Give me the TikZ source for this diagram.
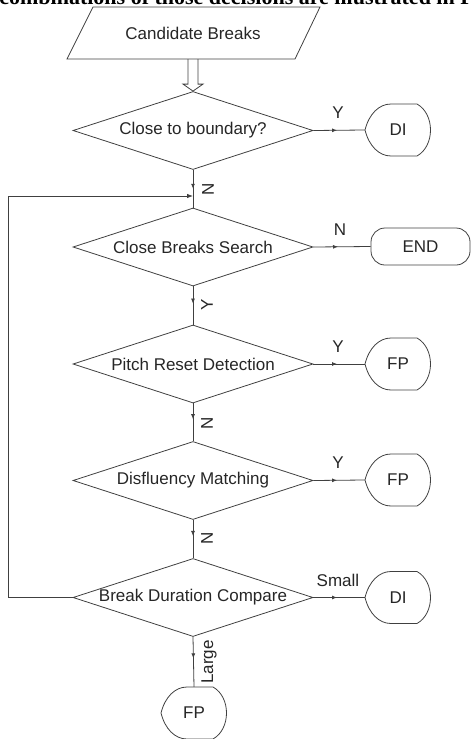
\documentclass[tikz,border=0pt]{standalone}
\usepackage{fontspec}
\setmainfont{Liberation Sans}
\newfontfamily\paperserif{Liberation Serif}
\usetikzlibrary{shapes.geometric,arrows.meta,decorations.markings}
\newcommand\dispoutline[1]{%
  \draw[lw] ([shift={(-33,0)}]#1.center)
    .. controls ([shift={(-29,-16)}]#1.center) and ([shift={(-19,-26)}]#1.center) .. ([shift={(-7,-26)}]#1.center)
    -- ([shift={(19,-26)}]#1.center)
    .. controls ([shift={(37,-16)}]#1.center) and ([shift={(37,16)}]#1.center) .. ([shift={(19,26)}]#1.center)
    -- ([shift={(-7,26)}]#1.center)
    .. controls ([shift={(-19,26)}]#1.center) and ([shift={(-29,16)}]#1.center) .. cycle;}
\begin{document}
\begin{tikzpicture}[x=1pt,y=-1pt,
  lw/.style={draw=black!75, line width=0.8pt},
  txt/.style={font=\fontsize{17}{20}\selectfont, text=black!85},
  dec/.style={lw, txt, diamond, aspect=3.08, minimum width=240, minimum height=78, inner sep=0pt},
  term/.style={txt, minimum width=66, minimum height=52, inner sep=0pt},
  endbox/.style={lw, txt, rounded corners=14pt, minimum width=99, minimum height=37, inner sep=0pt},
  lab/.style={txt, inner sep=0pt},
  vlab/.style={lab, rotate=90},
  midarr/.style={lw, postaction={decorate}, decoration={markings, mark=at position #1 with {\arrow{Latex[length=5pt,width=4pt]}}}},
  midarr/.default=0.46]
\useasboundingbox (0,0) rectangle (471,739);
% truncated line of the surrounding text
\begin{scope}
\clip (0,0) rectangle (471,5);
\node[anchor=base east, inner sep=0pt, font=\paperserif\bfseries\fontsize{22}{24}\selectfont] (paper) at (474,4) {combinations of those decisions are illustrated in F};
\end{scope}
% input
\node[txt, minimum width=200, minimum height=52, inner sep=0pt] (cb) at (193,33) {Candidate Breaks};
\draw[lw] ([shift={(-100,-26)}]cb.center) -- ([shift={(127,-26)}]cb.center) -- ([shift={(102,26)}]cb.center) -- ([shift={(-126,26)}]cb.center) -- cycle;
% decisions
\node[dec] (d1) at (193,130.5) {Close to boundary?};
\node[dec] (d2) at (193,247) {Close Breaks Search};
\node[dec] (d3) at (193,364) {Pitch Reset Detection};
\node[dec] (d4) at (193,480.5) {Disfluency Matching};
\node[dec] (d5) at (193,597.5) {Break Duration Compare};
% terminals
\node[term] (di1) at (398,130) {DI};
\node[endbox] (end) at (420.5,246.5) {END};
\node[term] (fp1) at (398,364) {FP};
\node[term] (fp2) at (398,480) {FP};
\node[term] (di2) at (398,597.5) {DI};
\node[term] (fp3) at (194,713) {FP};
\dispoutline{di1}
\dispoutline{fp1}
\dispoutline{fp2}
\dispoutline{di2}
\dispoutline{fp3}
% double arrow
\draw[lw] ([xshift=-5pt]cb.south) -- ([shift={(-5,-7)}]d1.north) -- ([shift={(-10,-7)}]d1.north) -- (d1.north)
  -- ([shift={(10,-7)}]d1.north) -- ([shift={(5,-7)}]d1.north) -- ([xshift=5pt]cb.south);
% horizontal connectors
\draw[midarr] (d1.east) -- (di1.west);
\draw[midarr=0.43] (d2.east) -- (end.west);
\draw[midarr] (d3.east) -- (fp1.west);
\draw[midarr] (d4.east) -- (fp2.west);
\draw[midarr] (d5.east) -- (di2.west);
\node[lab] (ly1) at (338,113) {Y};
\node[lab] (ln2) at (340,230) {N};
\node[lab] (ly3) at (338,347) {Y};
\node[lab] (ly4) at (338,463) {Y};
\node[lab] (lsm) at (338,580) {Small};
% vertical connectors
\draw[midarr=0.5] (d1.south) -- (d2.north);
\draw[midarr=0.45] (d2.south) -- (d3.north);
\draw[midarr=0.42] (d3.south) -- (d4.north);
\draw[midarr=0.42] (d4.south) -- (d5.north);
\draw[midarr=0.43] (d5.south) -- (fp3.north);
\node[vlab] (ln1) at (208,189) {N};
\node[vlab] (ly2) at (207,305) {Y};
\node[vlab] (ln3) at (207,423) {N};
\node[vlab] (ln4) at (207,538) {N};
\node[vlab] (llg) at (209,662) {Large};
% feedback loop
\coordinate (lc) at (8,597.5);
\coordinate (j) at (193,196);
\draw[lw, -{Latex[length=6pt,width=4.5pt]}] (d5.west) -- (lc) |- (j);
\end{tikzpicture}
\end{document}
